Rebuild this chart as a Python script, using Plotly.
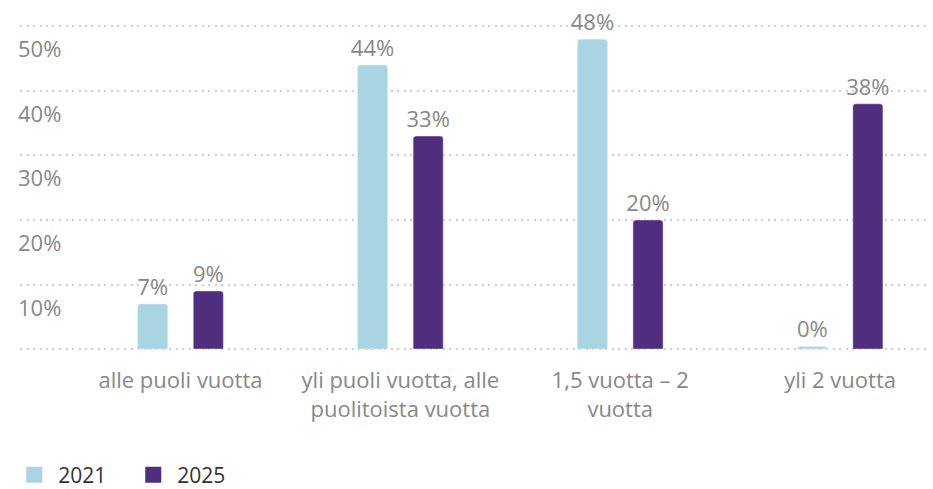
import plotly.graph_objects as go

categories = ["alle puoli vuotta", "yli puoli vuotta, alle<br>puolitoista vuotta",
              "1,5 vuotta – 2<br>vuotta", "yli 2 vuotta"]
values_2021 = [7, 44, 48, 0.4]
values_2025 = [9, 33, 20, 38]
series_names = ["2021", "2025"]
series_colors = ["#A9D5E3", "#4F2D7F"]
y_ticks = [0, 10, 20, 30, 40, 50]
y_tick_labels = ["", "10%", "20%", "30%", "40%", "50%"]

FONT = "Open Sans"
GRAY = "#888888"
FS = 22
BW = 0.137
offsets = [-0.195, 0.058]

fig = go.Figure()
for name, vals, col, off in zip(series_names, [values_2021, values_2025], series_colors, offsets):
    fig.add_bar(x=list(range(4)), y=vals, name=name, showlegend=False,
                marker_color=col, width=BW, offset=off,
                texttemplate="%{y:.0f}%", textposition="outside",
                constraintext="none",
                textfont=dict(size=FS, color=GRAY, family=FONT), cliponaxis=False)
    # legend entry
    fig.add_scatter(x=[None], y=[None], mode="markers", name=name,
                    marker=dict(symbol="square", size=16, color=col))

for v, lab in zip(y_ticks, y_tick_labels):
    if lab:
        fig.add_annotation(x=0, xref="paper", y=v, yref="y", text=lab,
                           showarrow=False, xanchor="left", yanchor="middle",
                           yshift=-22, xshift=-4,
                           font=dict(size=FS, color=GRAY, family=FONT))

fig.update_layout(
    width=933, height=489,
    margin=dict(l=20, r=5, t=25, b=138, autoexpand=False),
    paper_bgcolor="white", plot_bgcolor="white",
    barmode="overlay", barcornerradius=3,
    font=dict(family=FONT, size=FS, color=GRAY),
    showlegend=True,
    legend=dict(orientation="h", xref="container", yref="container",
                x=0.011, xanchor="left", y=0.0285, yanchor="middle",
                font=dict(size=21, color="#333333", family=FONT),
                itemwidth=38, entrywidth=66, entrywidthmode="pixels",
                tracegroupgap=0),
    xaxis=dict(tickmode="array", tickvals=list(range(4)), ticktext=categories,
               range=[-0.73, 3.40], showgrid=False, zeroline=False,
               showline=False, ticks="", ticklabelstandoff=14, automargin=False,
               tickfont=dict(size=FS, color=GRAY, family=FONT)),
    yaxis=dict(range=[-0.3, 50.2], tickvals=y_ticks, showticklabels=False,
               showgrid=True, gridcolor="#CFCFCF", gridwidth=2, automargin=False,
               griddash="2px,4.5px", zeroline=False, showline=False),
)

fig.write_html("out.html", config={"displayModeBar": False},
               post_script="document.body.style.margin='0';")
